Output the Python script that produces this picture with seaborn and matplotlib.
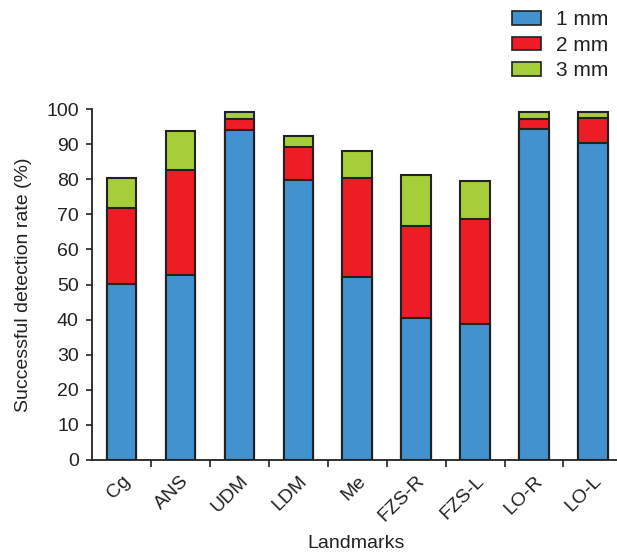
import matplotlib
matplotlib.use("Agg")
import matplotlib.pyplot as plt
import seaborn as sns
import pandas as pd
from matplotlib.patches import Patch

landmarks = ["Cg", "ANS", "UDM", "LDM", "Me", "FZS-R", "FZS-L", "LO-R", "LO-L"]
rate_1mm = [50.1, 52.7, 94.0, 79.8, 52.1, 40.5, 38.7, 94.3, 90.3]
rate_2mm = [71.8, 82.6, 97.2, 89.2, 80.3, 66.7, 68.7, 97.2, 97.4]
rate_3mm = [80.2, 93.7, 99.1, 92.3, 88.0, 81.2, 79.5, 99.1, 99.1]
series_labels = ["1 mm", "2 mm", "3 mm"]
colors = ["#4192CF", "#EE1C25", "#A6CE39"]

df = pd.DataFrame({"Landmarks": landmarks, "1 mm": rate_1mm, "2 mm": rate_2mm, "3 mm": rate_3mm})

sns.set_style("ticks")
plt.rcParams['font.family'] = ['Liberation Sans', 'DejaVu Sans']

fig = plt.figure(figsize=(6.17, 5.58), dpi=100)
ax = fig.add_axes([92/617, 98/558, 528/617, 351/558])

for lab, col in reversed(list(zip(series_labels, colors))):
    sns.barplot(data=df, x="Landmarks", y=lab, color=col, width=0.5, ax=ax,
                edgecolor="#222222", linewidth=1.5, saturation=1)

ax.set_ylim(0, 100)
ax.set_xlim(-0.5, 8.46)
ax.set_yticks(range(0, 101, 10))
ax.tick_params(axis='y', labelsize=14, length=4.5, width=1.2, direction='out', pad=5, colors="#222222")
ax.set_xticks(range(len(landmarks)))
ax.set_xticklabels(landmarks, rotation=45, ha='right', rotation_mode='anchor', fontsize=14, color="#222222")
ax.tick_params(axis='x', which='major', length=0, pad=9)
ax.set_xticks([i + 0.5 for i in range(len(landmarks) - 1)], minor=True)
ax.tick_params(axis='x', which='minor', length=5, width=1.2, direction='out', color="#222222")
ax.set_ylabel("Successful detection rate (%)", fontsize=14, labelpad=10, color="#222222")
ax.set_xlabel("Landmarks", fontsize=14, color="#222222")
ax.xaxis.set_label_coords(0.5, -0.215)
for s in ["left", "bottom"]:
    ax.spines[s].set_linewidth(1.3)
    ax.spines[s].set_color("#222222")
sns.despine(ax=ax)

handles = [Patch(facecolor=c, edgecolor="#222222", linewidth=1.2) for c in colors]
fig.legend(handles, series_labels, loc='upper left', bbox_to_anchor=(512/617, 0.982),
           frameon=False, fontsize=15, handlelength=1.4, handleheight=0.63,
           labelspacing=0.32, handletextpad=0.7, borderpad=0, borderaxespad=0,
           labelcolor="#222222")

fig.savefig("out.png", dpi=100)
